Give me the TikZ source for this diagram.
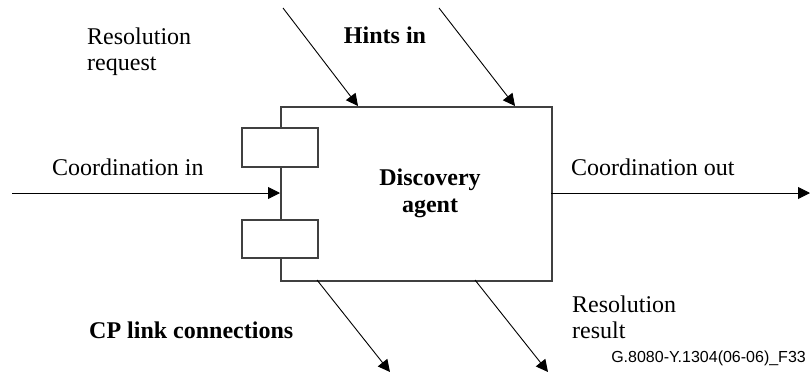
\documentclass[tikz,border=0pt]{standalone}
\usepackage{fontspec}
\setmainfont{Liberation Serif}
\newfontfamily\labsans{Liberation Sans}
\usetikzlibrary{arrows.meta}
\begin{document}
\begin{tikzpicture}[x=1pt,y=-1pt,
  boxline/.style={draw=black!75, line width=1.5pt},
  arr/.style={draw=black, line width=0.9pt, -{Triangle[length=12pt,width=12pt]}},
  lbl/.style={font=\fontsize{24}{26}\selectfont, inner sep=0pt},
  blbl/.style={font=\fontsize{24}{27}\selectfont\bfseries, inner sep=0pt},
  ]
\useasboundingbox (0,0) rectangle (811,376);
% main box
\node[boxline, minimum width=271pt, minimum height=174pt, inner sep=0pt, anchor=north west] (agent) at (280,106) {};
\node[blbl, align=center] (agenttext) at (430,193) {Discovery\\agent};
% ports
\node[boxline, fill=white, minimum width=76pt, minimum height=39pt, inner sep=0pt] (p1) at (280,147.5) {};
\node[boxline, fill=white, minimum width=76pt, minimum height=38pt, inner sep=0pt] (p2) at (280,239) {};
% coordinates
\coordinate (cin) at (12,193);
\coordinate (cinend) at (280,193);
\coordinate (coutstart) at (551,193);
\coordinate (cout) at (810,193);
\coordinate (h1s) at (283,8);
\coordinate (h1e) at (358,106);
\coordinate (h2s) at (439,8);
\coordinate (h2e) at (515,106);
\coordinate (c1s) at (317,280);
\coordinate (c1e) at (390,372);
\coordinate (c2s) at (475,280);
\coordinate (c2e) at (548,372);
% arrows
\draw[arr] (cin) -- (cinend);
\draw[arr] (coutstart) -- (cout);
\draw[arr] (h1s) -- (h1e);
\draw[arr] (h2s) -- (h2e);
\draw[arr] (c1s) -- (c1e);
\draw[arr] (c2s) -- (c2e);
% labels
\node[lbl, anchor=base west] (cinl) at (52,175) {Coordination in};
\node[lbl, anchor=base west] (coutl) at (571,175) {Coordination out};
\node[lbl, anchor=north west, align=left] (rreq) at (87,27.6) {Resolution\\request};
\node[blbl, anchor=base] (hints) at (385,43) {Hints in};
\node[blbl, anchor=base west] (cpl) at (89,338) {CP link connections};
\node[lbl, anchor=north west, align=left] (rres) at (572,295.6) {Resolution\\result};
\node[inner sep=0pt, anchor=base east, font=\labsans\fontsize{16}{18}\selectfont] (fig) at (806,362) {G.8080-Y.1304(06-06)\_F33};
\end{tikzpicture}
\end{document}
